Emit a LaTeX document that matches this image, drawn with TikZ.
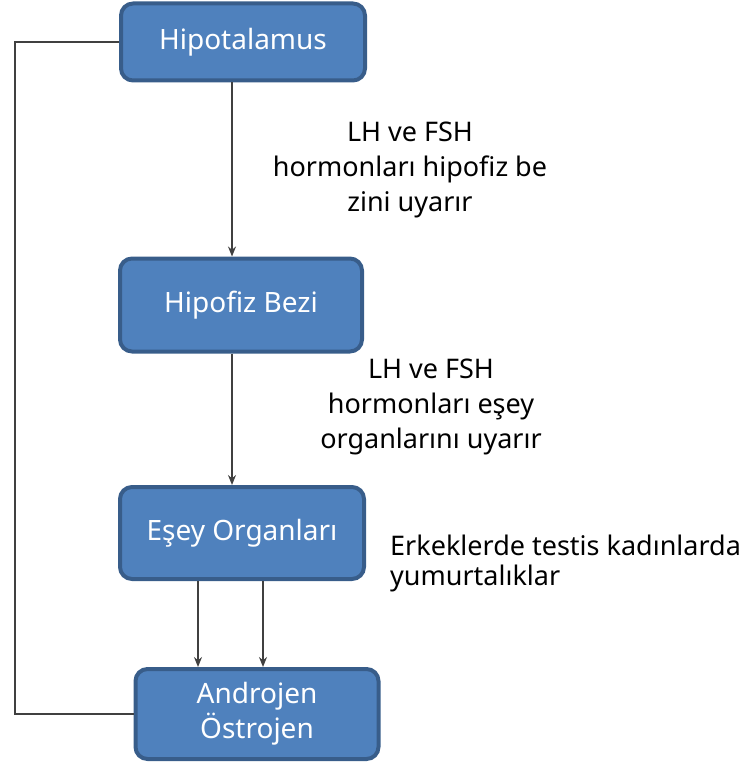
\documentclass[tikz,border=0pt]{standalone}
\usepackage{fontspec}
\setmainfont{Noto Sans}
\usetikzlibrary{arrows.meta}
\definecolor{boxfill}{HTML}{4F81BD}
\definecolor{boxline}{HTML}{385D8A}
\definecolor{wire}{HTML}{404040}
\tikzset{
  organ/.style={draw=boxline, line width=4pt, fill=boxfill, rounded corners=12pt,
    text=white, align=center, font=\fontsize{28}{35}\selectfont, inner sep=0pt},
  note/.style={align=center, font=\fontsize{27}{35}\selectfont, inner sep=0pt},
  link/.style={-{Stealth[length=10pt, width=8pt]}, line width=1.5pt, color=wire}
}
\begin{document}
\begin{tikzpicture}[x=1pt, y=-1pt]
  \useasboundingbox (0, 0) rectangle (741, 762);
  \node [organ, minimum width=244pt, minimum height=77pt] (hipotalamus) at (243, 42) {Hipotalamus};
  \node [organ, minimum width=242pt, minimum height=93pt] (hipofiz) at (241, 305) {Hipofiz Bezi};
  \node [organ, minimum width=244pt, minimum height=92pt] (esey) at (242, 533) {Eşey Organları};
  \node [organ, minimum width=243pt, minimum height=90pt] (hormon) at (257, 714) {Androjen\\Östrojen};
  \coordinate (sol) at (15, 0);
  \draw [link] (hipotalamus.south -| 232, 0) -- (hipofiz.north -| 232, 0);
  \draw [link] (hipofiz.south -| 232, 0) -- (esey.north -| 232, 0);
  \draw [link] (esey.south -| 198, 0) -- (hormon.north -| 198, 0);
  \draw [link] (esey.south -| 263, 0) -- (hormon.north -| 263, 0);
  \draw [line width=1.5pt, color=wire] (hormon.west) -- (hormon.west -| sol) -- (hipotalamus.west -| sol) -- (hipotalamus.west);
  \node [note] (not1) at (410, 170) {LH ve FSH\\hormonları hipofiz be\\zini uyarır};
  \node [note] (not2) at (431, 407) {LH ve FSH\\hormonları eşey\\organlarını uyarır};
  \node [note, align=left, anchor=west, font=\fontsize{27}{30}\selectfont] (not3) at (390, 563) {Erkeklerde testis kadınlarda\\yumurtalıklar};
\end{tikzpicture}
\end{document}
